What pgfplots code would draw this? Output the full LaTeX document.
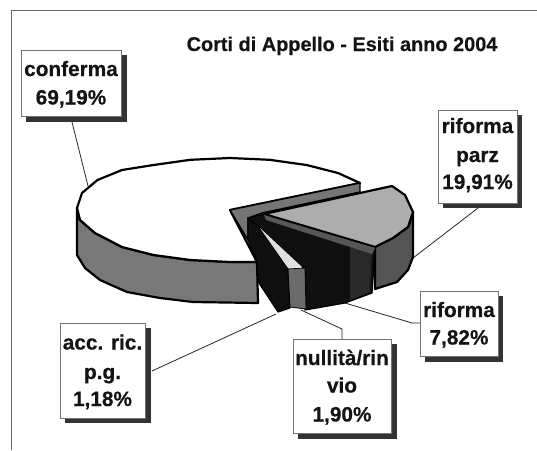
\documentclass[border=0pt]{standalone}
\usepackage{fontspec}
\setmainfont{Liberation Sans}[BoldFeatures={FakeBold=0.5}]
\usepackage{pgfplots}
\pgfplotsset{compat=1.18}

\definecolor{wallgray}{gray}{0.46}
\definecolor{sidegray}{gray}{0.47}
\definecolor{topgray}{gray}{0.68}
\definecolor{darkside}{gray}{0.33}
\definecolor{nearblack}{gray}{0.06}
\definecolor{shadowgray}{gray}{0.20}

\tikzset{
  lab/.style={anchor=base,inner sep=0pt,font=\fontsize{20.8}{25}\bfseries\selectfont,text=black!92},
  leader/.style={draw=black!85,line width=0.8pt},
  slice/.style={draw=black,line width=2.2pt,line join=round},
  boxshadow/.style={fill=shadowgray,draw=none},
  labbox/.style={fill=white,draw=black!55,line width=0.8pt}
}

\begin{document}
\begin{tikzpicture}
\begin{axis}[
  width=537pt,height=450pt,scale only axis,
  xmin=0,xmax=537,ymin=0,ymax=450,y dir=reverse,
  hide axis,clip=true]

% page + frame
\addplot[fill=white,draw=none] coordinates {(0,0)(537,0)(537,450)(0,450)} --cycle;
\addplot[draw=black!60,line width=0.9pt] coordinates {(11,450)(11,10)(537,10)};

% leader lines
\addplot[leader] coordinates {(72,122)(88,186)};
\addplot[leader] coordinates {(478,208)(413,258)};
\addplot[leader] coordinates {(420,323)(412,323)(345,303)};
\addplot[leader] coordinates {(342,339)(342,329)(301,310)};
\addplot[leader] coordinates {(152,371)(276,314)};

% conferma: side panel
\addplot[slice,fill=sidegray] coordinates {(77,208)(80,220)(95,233)(122,247)(153.5,255)(190.4,260)(230,262)(257,262)(258,303)(193,302)(160,298)(127,292)(100,280)(85,268)(77,255)} --cycle;
% conferma: top
\addplot[slice,fill=white] coordinates {(230,210)(360,183)(338,173)(306.5,165)(269.6,159.8)(230,158)(190.4,159.8)(153.5,165)(122,170)(97.5,180)(82,193)(77,208)(80,220)(95,233)(122,247)(153.5,255)(190.4,260)(230,262)(257,262)} --cycle;
% conferma: inner wall
\addplot[draw=black,line width=1.4pt,line join=round,fill=wallgray] coordinates {(230,210)(360,183)(360,192)(262,213)(248,218)(248,240)} --cycle;

% riforma parz
\addplot[slice,fill=darkside] coordinates {(375,247)(393,238)(408,227)(413,212)(413,257)(408,270)(397,282)(375,289)} --cycle;
\addplot[slice,fill=topgray] coordinates {(264,214)(392,186)(405,195)(413,212)(408,227)(393,238)(375,247)} --cycle;

% riforma
\addplot[fill=nearblack,draw=black,line width=1.2pt,line join=round] coordinates {(248,218)(264,214)(375,249)(372,293)(345,303)(305,310)(305,268)(302,267)(260,228)} --cycle;
\addplot[fill=black!84,draw=none] coordinates {(350,243)(372,250)(370,292)(350,300)} --cycle;
\addplot[fill=black!66,draw=none] coordinates {(264,215)(375,248)(372,254)(266,220)} --cycle;

% accolto ricorso p.g.
\addplot[fill=nearblack,draw=black,line width=1.2pt,line join=round] coordinates {(248,218)(260,228)(288,268)(290,308)(278,312)(259,283)(257,262)(248,240)} --cycle;

% nullita'
\addplot[fill=black!12,draw=none] coordinates {(260,228)(302,267)(288,268)} --cycle;
\addplot[fill=black!58,draw=black,line width=0.8pt,line join=round] coordinates {(288,269)(305,268)(306,309)(290,307)} --cycle;

% label boxes
\addplot[boxshadow] coordinates {(26,55)(127,55)(127,122)(26,122)} --cycle;
\addplot[labbox] coordinates {(21,50)(121,50)(121,116)(21,116)} --cycle;
\addplot[boxshadow] coordinates {(443,115)(522,115)(522,208)(443,208)} --cycle;
\addplot[labbox] coordinates {(438,110)(517,110)(517,203)(438,203)} --cycle;
\addplot[boxshadow] coordinates {(425,296)(503,296)(503,362)(425,362)} --cycle;
\addplot[labbox] coordinates {(420,291)(498,291)(498,356)(420,356)} --cycle;
\addplot[boxshadow] coordinates {(298,344)(397,344)(397,439)(298,439)} --cycle;
\addplot[labbox] coordinates {(293,339)(391,339)(391,433)(293,433)} --cycle;
\addplot[boxshadow] coordinates {(65,328)(151,328)(151,423)(65,423)} --cycle;
\addplot[labbox] coordinates {(60,323)(145,323)(145,418)(60,418)} --cycle;

% text
\node[anchor=base,inner sep=0pt,font=\fontsize{19.9}{24}\bfseries\selectfont,text=black!92] at (axis cs:342,51) {Corti di Appello - Esiti anno 2004};
\node[lab] at (axis cs:71,76) {conferma};
\node[lab] at (axis cs:71,104.5) {69,19\%};
\node[lab] at (axis cs:477.5,133) {riforma};
\node[lab] at (axis cs:477.5,162) {parz};
\node[lab] at (axis cs:477.5,189) {19,91\%};
\node[lab] at (axis cs:459,317) {riforma};
\node[lab] at (axis cs:459,344.5) {7,82\%};
\node[lab] at (axis cs:342,365) {nullità/rin};
\node[lab] at (axis cs:342,392.5) {vio};
\node[lab] at (axis cs:342,421.5) {1,90\%};
\node[lab] at (axis cs:102.5,349.5) {acc. ric.};
\node[lab] at (axis cs:102.5,379) {p.g.};
\node[lab] at (axis cs:102.5,406) {1,18\%};
\end{axis}
\end{tikzpicture}
\end{document}
